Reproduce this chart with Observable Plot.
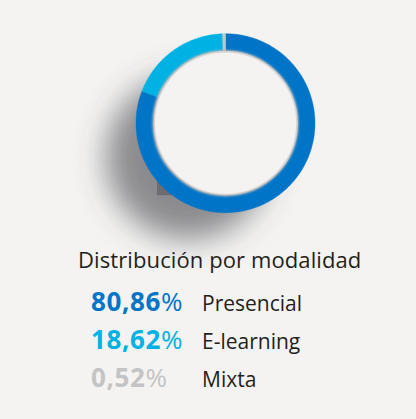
<!DOCTYPE html>
<html>
<head>
<meta charset="utf-8">
<script src="https://cdn.jsdelivr.net/npm/d3@7"></script>
<script src="https://cdn.jsdelivr.net/npm/@observablehq/plot@0.6"></script>
<style>
  html, body { margin: 0; padding: 0; background: #f4f3f2; }
  #card { position: relative; width: 416px; height: 419px; background: #f4f3f2; overflow: hidden;
          font-family: "Open Sans", Lato, sans-serif; }
  #chart { position: absolute; left: 0; top: 0; }
  .title { position: absolute; left: 78px; top: 248px; font-size: 22px; line-height: 1; color: #231f20; white-space: nowrap; letter-spacing: 0.1px; }
  .row { position: absolute; left: 91px; line-height: 1; white-space: nowrap; }
  .num { display: inline-block; width: 111px; font-size: 26px; font-weight: 700; letter-spacing: 0.6px; }
  .num .pct { font-weight: 400; }
  .lab { font-size: 21px; color: #231f20; }
</style>
</head>
<body>
<div id="card">
  <div id="chart"></div>
</div>
<script>
// Distribución por modalidad
const categories = ["Presencial", "E-learning", "Mixta"];
const shares = [80.86, 18.62, 0.52];
const labels = ["80,86", "18,62", "0,52"];
const colors = ["#0075c8", "#00b2e3", "#c4c4c4"];

const bg = "#f4f3f2";
const outerR = 1;            // ring radius in scale units
const innerR = 0.81;

// Build a closed polygon for each ring segment, clockwise from 12 o'clock
const total = d3.sum(shares);
const ringPoints = [];
let start = 0;
categories.forEach((cat, i) => {
  const a0 = start / total * 2 * Math.PI;
  const a1 = (start + shares[i]) / total * 2 * Math.PI;
  start += shares[i];
  const steps = Math.max(2, Math.ceil((a1 - a0) / (Math.PI / 180)));
  for (let k = 0; k <= steps; k++) {
    const a = a0 + (a1 - a0) * k / steps;
    ringPoints.push({category: cat, x: outerR * Math.sin(a), y: outerR * Math.cos(a)});
  }
  for (let k = steps; k >= 0; k--) {
    const a = a0 + (a1 - a0) * k / steps;
    ringPoints.push({category: cat, x: innerR * Math.sin(a), y: innerR * Math.cos(a)});
  }
});

const center = [{x: 0, y: 0}];
const shadow = [{x: -0.42, y: -0.38}];

const plot = Plot.plot({
  width: 416,
  height: 250,
  marginLeft: 135.5,
  marginRight: 101.5,
  marginTop: 33.2,
  marginBottom: 37.8,
  x: {domain: [-1, 1], axis: null},
  y: {domain: [-1, 1], axis: null},
  color: {domain: categories, range: colors},
  style: {background: "transparent", overflow: "visible"},
  marks: [
    // soft drop shadow behind the ring
    Plot.dot(shadow, {x: "x", y: "y", r: 82, fill: "#4a4a50", fillOpacity: 0.62, stroke: null}),
    Plot.rect(shadow, {x1: () => -0.76, x2: () => -0.4, y1: () => -0.81, y2: () => -0.64, fill: "#6c6c71"}),
    // ring segments
    Plot.line(ringPoints, {x: "x", y: "y", z: "category", fill: "category", stroke: "category",
                           strokeWidth: 0.4, curve: "linear-closed"}),
    // inner disc with a soft inset edge
    Plot.dot(center, {x: "x", y: "y", r: 72, fill: bg, stroke: "#b9b7b5", strokeWidth: 2}),
    Plot.dot(center, {x: "x", y: "y", r: 70.5, fill: bg, stroke: null})
  ]
});

document.getElementById("chart").appendChild(plot);

// SVG blur filters for the shadow and the inner edge
const svg = d3.select(plot);
const defs = svg.insert("defs", ":first-child");
defs.append("filter").attr("id", "shadow-blur")
    .attr("x", "-50%").attr("y", "-50%").attr("width", "200%").attr("height", "200%")
  .append("feGaussianBlur").attr("stdDeviation", 15);
defs.append("filter").attr("id", "edge-blur")
    .attr("x", "-20%").attr("y", "-20%").attr("width", "140%").attr("height", "140%")
  .append("feGaussianBlur").attr("stdDeviation", 1.2);
const dots = svg.selectAll("g[aria-label='dot']").nodes();
d3.select(dots[0]).attr("filter", "url(#shadow-blur)");
d3.select(dots[1]).attr("filter", "url(#edge-blur)");

// Title and legend rows
const card = d3.select("#card");
card.append("div").attr("class", "title").text("Distribución por modalidad");
const rowTops = [288, 326, 364];
categories.forEach((cat, i) => {
  const row = card.append("div").attr("class", "row").style("top", rowTops[i] + "px");
  const num = row.append("span").attr("class", "num").style("color", colors[i]);
  num.append("span").text(labels[i]);
  num.append("span").attr("class", "pct").text("%");
  row.append("span").attr("class", "lab").text(cat);
});
</script>
</body>
</html>
